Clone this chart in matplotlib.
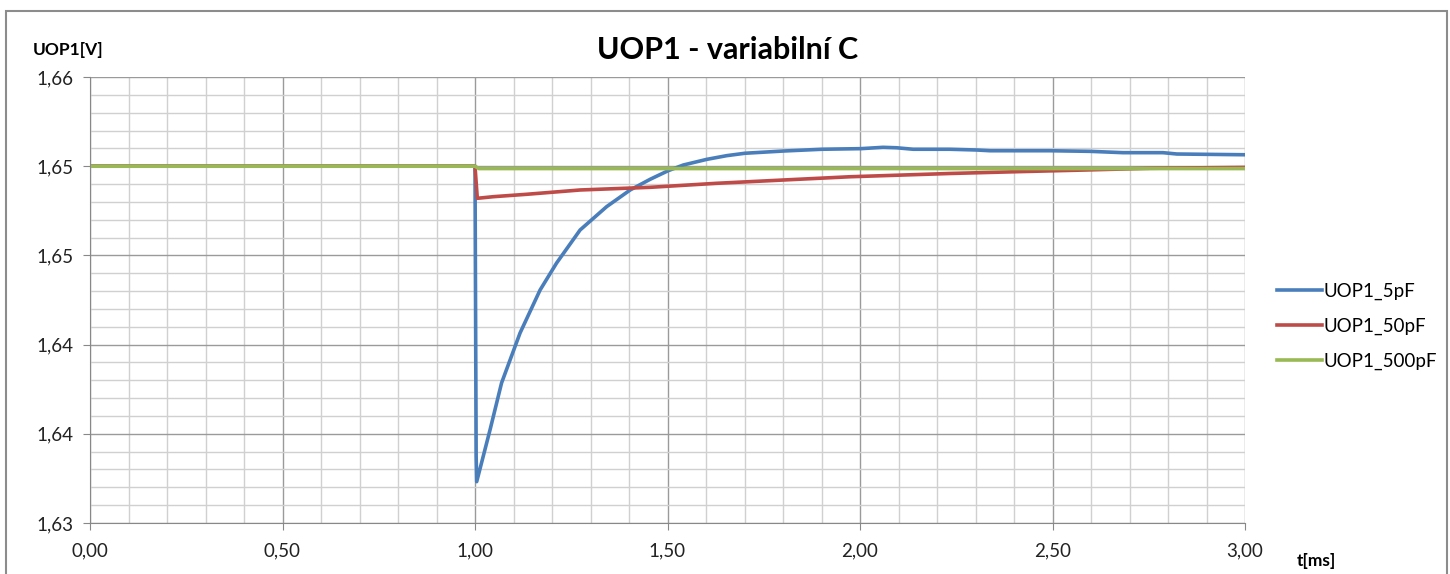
import matplotlib
matplotlib.use("Agg")
import numpy as np
import matplotlib.pyplot as plt
from matplotlib.ticker import FuncFormatter
from matplotlib.patches import Rectangle

plt.rcParams['font.family'] = ['Lato', 'DejaVu Sans']

# values
t_5pF = [0.0, 1.0, 1.003, 1.0044, 1.039, 1.069, 1.117, 1.169, 1.212, 1.273, 1.342, 1.403,
         1.455, 1.502, 1.541, 1.602, 1.654, 1.701, 1.800, 1.901, 2.002, 2.060, 2.095,
         2.138, 2.234, 2.303, 2.338, 2.494, 2.597, 2.683, 2.787, 2.823, 3.0]
u_5pF = [1.6540, 1.6540, 1.6345, 1.63278, 1.63626, 1.63942, 1.64278, 1.64567, 1.64749,
         1.64971, 1.65128, 1.65240, 1.65312, 1.65370, 1.65408, 1.65446, 1.65471, 1.65487,
         1.65502, 1.65514, 1.65518, 1.65527, 1.65524, 1.65514, 1.65514, 1.65509, 1.65504,
         1.65504, 1.65500, 1.65491, 1.65491, 1.65482, 1.65477]

t_50pF = [0.0, 1.0, 1.006, 1.048, 1.134, 1.273, 1.455, 1.628, 1.800, 1.974, 2.234,
          2.407, 2.579, 2.753, 3.0]
u_50pF = [1.6540, 1.6540, 1.65184, 1.65195, 1.65211, 1.65240, 1.65258, 1.65285, 1.65307,
          1.65329, 1.65351, 1.65363, 1.65374, 1.65386, 1.65392]

t_500pF = [0.0, 1.0, 1.01, 3.0]
u_500pF = [1.6540, 1.6540, 1.65384, 1.65384]

colors = ["#4A7EBB", "#BE4B48", "#98B954"]

fig = plt.figure(figsize=(14.5, 5.74), dpi=100)
ax = fig.add_axes([90/1450, 1-523/574, (1245-90)/1450, (523-77)/574])

ax.plot(t_5pF, u_5pF, color=colors[0], lw=2.6, label="UOP1_5pF")
ax.plot(t_50pF, u_50pF, color=colors[1], lw=2.6, label="UOP1_50pF")
ax.plot(t_500pF, u_500pF, color=colors[2], lw=2.6, label="UOP1_500pF")

ax.set_xlim(0, 3)
ax.set_ylim(1.63, 1.66)
ax.set_xticks(np.linspace(0, 3, 7))
ax.set_xticks(np.linspace(0, 3, 31), minor=True)
ax.set_yticks(np.linspace(1.63, 1.66, 6))
ax.set_yticks(np.linspace(1.63, 1.66, 26), minor=True)
comma = FuncFormatter(lambda v, p: f"{v:.2f}".replace(".", ","))
ax.xaxis.set_major_formatter(comma)
ax.yaxis.set_major_formatter(comma)

ax.grid(which="major", color="#9a9a9a", lw=1.0)
ax.grid(which="minor", color="#d0d0d0", lw=1.0)
ax.set_axisbelow(True)
ax.tick_params(which="major", direction="out", length=5, color="#888888",
               labelsize=13.5, pad=7, labelcolor="#222222")
ax.tick_params(axis="x", which="major", pad=9)
ax.tick_params(which="minor", length=0)
for s in ["top", "right"]:
    ax.spines[s].set_visible(False)
for s in ["left", "bottom"]:
    ax.spines[s].set_color("#888888")

fig.text(728/1450, 1-50/574, "UOP1 - variabilní C", fontsize=22, fontweight="bold",
         ha="center", va="center")
fig.text(33/1450, 1-50/574, "UOP1[V]", fontsize=12.5, fontweight="bold",
         ha="left", va="center")
fig.text(1297/1450, 1-561/574, "t[ms]", fontsize=12.5, fontweight="bold",
         ha="left", va="center")

ax.legend(loc="center left", bbox_to_anchor=(1260/1450, 1-326/574),
          bbox_transform=fig.transFigure, frameon=False, fontsize=13.5,
          handlelength=2.4, handletextpad=0.1, labelspacing=0.95)

fig.patches.append(Rectangle((6/1450, -0.05), (1447-6)/1450, 1.05-11/574,
                             transform=fig.transFigure, fill=False,
                             edgecolor="#8c8c8c", lw=1.5))

fig.savefig("out.png", dpi=100)
